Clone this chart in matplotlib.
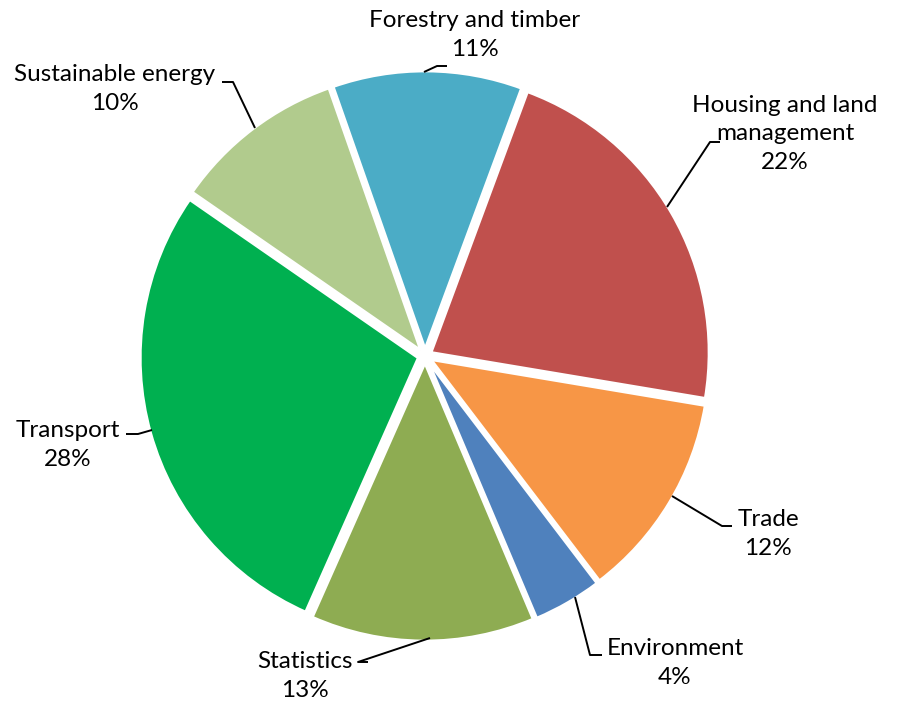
import matplotlib
matplotlib.use("Agg")
import matplotlib.pyplot as plt

plt.rcParams['font.family'] = ['Lato', 'DejaVu Sans']

labels = ["Forestry and timber", "Housing and land\nmanagement", "Trade",
          "Environment", "Statistics", "Transport", "Sustainable energy"]
shares = [11, 22, 12, 4, 13, 28, 10]
colors = ["#4BACC6", "#C0504D", "#F79646", "#4F81BD", "#8EAC52", "#00B050", "#B1CB8D"]

# label anchor (text centre) and leader polyline, in figure pixels (y down)
label_pos = [(475, 35), (785, 134), (768, 534), (675, 663), (305, 676), (68, 445), (115, 89)]
leaders = [
    [(447, 66), (437, 66), (424, 72)],
    [(720, 142), (710, 142), (667, 207)],
    [(732, 526), (722, 526), (672, 496)],
    [(602, 655), (590, 655), (575, 597)],
    [(368, 662), (358, 662), (430, 638)],
    [(126, 434), (138, 434), (152, 430)],
    [(222, 82), (233, 82), (255, 128)],
]

W, H = 900, 711
fig = plt.figure(figsize=(9, 7.11), dpi=100)
ax = fig.add_axes([0, 0, 1, 1])

# explode offsets are in data units here (pixels)
ax.pie(shares, colors=colors, startangle=109.3, counterclock=False,
       center=(425, H - 356), radius=278, explode=[7] * len(shares),
       wedgeprops=dict(edgecolor="white", linewidth=2), frame=True)

for (lx, ly), name, val in zip(label_pos, labels, shares):
    ax.text(lx, H - ly, f"{name}\n{val}%", ha="center", va="center",
            fontsize=17.5, linespacing=1.45, color="black")

for pts in leaders:
    xs = [p[0] for p in pts]
    ys = [H - p[1] for p in pts]
    ax.plot(xs, ys, color="black", lw=1.4, solid_capstyle="butt")

ax.set_xlim(0, W)
ax.set_ylim(0, H)
ax.set_aspect("equal")
ax.axis("off")

fig.savefig("out.png", dpi=100, facecolor="white")
